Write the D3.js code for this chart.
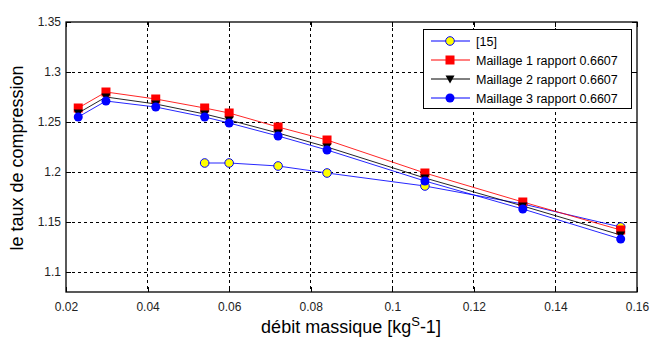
<!DOCTYPE html>
<html><head><meta charset="utf-8">
<script src="https://cdn.jsdelivr.net/npm/d3@7"></script>
<style>body{margin:0;background:#fff;} svg{display:block;font-family:Arial,"Liberation Sans",sans-serif;}</style>
</head><body>
<svg id="c" width="652" height="345"></svg>
<script>
const xRef = [0.054, 0.060, 0.072, 0.084, 0.108, 0.132, 0.156];
const yRef = [1.209, 1.209, 1.206, 1.199, 1.186, 1.168, 1.145];
const xM = [0.023, 0.0298, 0.042, 0.054, 0.060, 0.072, 0.084, 0.108, 0.132, 0.156];
const yM1 = [1.264, 1.280, 1.273, 1.264, 1.259, 1.245, 1.232, 1.199, 1.170, 1.142];
const yM2 = [1.259, 1.275, 1.268, 1.258, 1.252, 1.239, 1.225, 1.194, 1.166, 1.137];
const yM3 = [1.255, 1.271, 1.265, 1.255, 1.249, 1.236, 1.222, 1.191, 1.163, 1.133];
const xTicks = [0.02, 0.04, 0.06, 0.08, 0.1, 0.12, 0.14, 0.16];
const yTicks = [1.1, 1.15, 1.2, 1.25, 1.3, 1.35];
const seriesNames = ["[15]", "Maillage 1 rapport 0.6607", "Maillage 2 rapport 0.6607", "Maillage 3 rapport 0.6607"];

const svg = d3.select("#c");
const L = 66, R = 637, T = 22, B = 292;
const x = d3.scaleLinear().domain([0.02, 0.16]).range([L, R]);
const y = d3.scaleLinear().domain([1.08, 1.35]).range([B, T]);

// grid
const g = svg.append("g");
xTicks.slice(1, -1).forEach(v => g.append("line").attr("x1", x(v)).attr("x2", x(v)).attr("y1", T).attr("y2", B)
  .attr("stroke", "#000").attr("stroke-width", 1).attr("stroke-dasharray", "3,3").attr("shape-rendering", "crispEdges"));
yTicks.slice(0, -1).forEach(v => g.append("line").attr("x1", L).attr("x2", R).attr("y1", y(v)).attr("y2", y(v))
  .attr("stroke", "#000").attr("stroke-width", 1).attr("stroke-dasharray", "3,3").attr("shape-rendering", "crispEdges"));

// axes
const axB = d3.axisBottom(x).tickValues(xTicks).tickFormat(d3.format("")).tickSizeInner(-5).tickSizeOuter(0).tickPadding(10);
const axL = d3.axisLeft(y).tickValues(yTicks).tickFormat(d3.format("")).tickSizeInner(-5).tickSizeOuter(0).tickPadding(5);
const axT = d3.axisTop(x).tickValues(xTicks).tickFormat("").tickSizeInner(-5).tickSizeOuter(0);
const axR = d3.axisRight(y).tickValues(yTicks).tickFormat("").tickSizeInner(-5).tickSizeOuter(0);
[[axB, `translate(0,${B})`], [axL, `translate(${L},0)`], [axT, `translate(0,${T})`], [axR, `translate(${R},0)`]].forEach(([a, t]) => {
  const s = svg.append("g").attr("transform", t).call(a);
  s.select(".domain").remove();
  s.selectAll("line").attr("stroke", "#000").attr("shape-rendering", "crispEdges");
  s.selectAll("text").attr("font-size", 12).attr("fill", "#222").attr("font-family", "Arial, 'Liberation Sans', sans-serif");
});
svg.append("rect").attr("x", L).attr("y", T).attr("width", R - L).attr("height", B - T)
  .attr("fill", "none").attr("stroke", "#000").attr("stroke-width", 1.3);

const line = d3.line().x(d => x(d[0])).y(d => y(d[1]));
const zip = (a, b) => a.map((v, i) => [v, b[i]]);

function drawMarker(sel, type, cx, cy) {
  if (type === 0) sel.append("circle").attr("cx", cx).attr("cy", cy).attr("r", 4.3).attr("fill", "#ffff00").attr("stroke", "#0000ff").attr("stroke-width", 1);
  else if (type === 1) sel.append("rect").attr("x", cx - 4.5).attr("y", cy - 4.5).attr("width", 9).attr("height", 9).attr("fill", "#ff0000");
  else if (type === 2) sel.append("path").attr("d", `M${cx - 4.5},${cy - 3.5}L${cx + 4.5},${cy - 3.5}L${cx},${cy + 4.5}Z`).attr("fill", "#000");
  else sel.append("circle").attr("cx", cx).attr("cy", cy).attr("r", 4.5).attr("fill", "#0000ff");
}

const series = [
  {xs: xRef, ys: yRef, color: "#0000ff", type: 0},
  {xs: xM, ys: yM1, color: "#ff0000", type: 1},
  {xs: xM, ys: yM2, color: "#000000", type: 2},
  {xs: xM, ys: yM3, color: "#0000ff", type: 3}
];
series.forEach(s => {
  const gg = svg.append("g");
  gg.append("path").datum(zip(s.xs, s.ys)).attr("d", line).attr("fill", "none").attr("stroke", s.color).attr("stroke-width", 1).attr("stroke-opacity", 0.85);
  s.xs.forEach((v, i) => drawMarker(gg, s.type, x(v), y(s.ys[i])));
});

// legend
const lg = svg.append("g");
lg.append("rect").attr("x", 423.5).attr("y", 29.5).attr("width", 208).attr("height", 79).attr("fill", "#fff").attr("stroke", "#000").attr("stroke-width", 1);
series.forEach((s, i) => {
  const yy = 41 + i * 19;
  lg.append("line").attr("x1", 431).attr("x2", 470).attr("y1", yy).attr("y2", yy).attr("stroke", s.color).attr("stroke-width", 1);
  drawMarker(lg, s.type, 450, yy);
  lg.append("text").attr("x", 476).attr("y", yy + 4.5).attr("font-size", 12.5).attr("fill", "#000").text(seriesNames[i]);
});

// axis labels
const xl = svg.append("text").attr("x", 351).attr("y", 333).attr("text-anchor", "middle").attr("font-size", 18).attr("fill", "#000");
xl.append("tspan").text("débit massique [kg");
xl.append("tspan").attr("dy", -7).attr("font-size", 13).text("S");
xl.append("tspan").attr("dy", 7).text("-1]");
svg.append("text").attr("transform", `translate(23,158) rotate(-90)`).attr("text-anchor", "middle").attr("font-size", 18).attr("fill", "#000").text("le taux de compression");
</script>
</body></html>
